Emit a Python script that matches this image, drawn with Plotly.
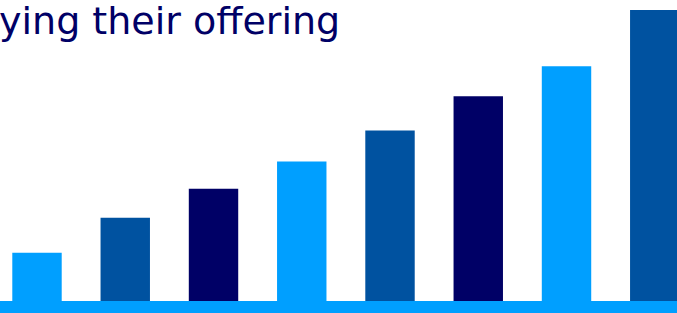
import plotly.graph_objects as go

categories = ["A", "B", "C", "D", "E", "F", "G", "H"]
values = [4.8, 8.3, 11.2, 13.9, 17.0, 20.4, 23.4, 29.0]
bar_colors = ["#009FFF", "#0052A0", "#000066", "#009FFF", "#0052A0", "#000066", "#009FFF", "#0052A0"]
title_text = "ying their offering"

fig = go.Figure(go.Bar(x=categories, y=values, marker=dict(color=bar_colors, line=dict(width=0))))

fig.update_layout(
    width=677, height=313,
    margin=dict(l=0, r=0, t=0, b=12, pad=0),
    paper_bgcolor="white", plot_bgcolor="white",
    bargap=0.44,
    showlegend=False,
    xaxis=dict(range=[-0.4193, 7.252], showticklabels=False, showgrid=False, zeroline=False, showline=False, ticks=""),
    yaxis=dict(range=[0, 30.0], showticklabels=False, showgrid=False, zeroline=False, showline=False, ticks=""),
    shapes=[dict(type="rect", xref="paper", yref="paper", x0=0, x1=1, y0=-12/301, y1=0,
                 fillcolor="#009FFF", line=dict(width=0), layer="above")],
    annotations=[dict(text=title_text, xref="paper", yref="paper", x=-3/677, y=1, yshift=3,
                      xanchor="left", yanchor="top", showarrow=False,
                      font=dict(family="DejaVu Sans", size=38, color="#000066"))],
)

fig.write_html("out.html", config={"displayModeBar": False},
               post_script="document.body.style.margin='0';document.body.style.padding='0';")
